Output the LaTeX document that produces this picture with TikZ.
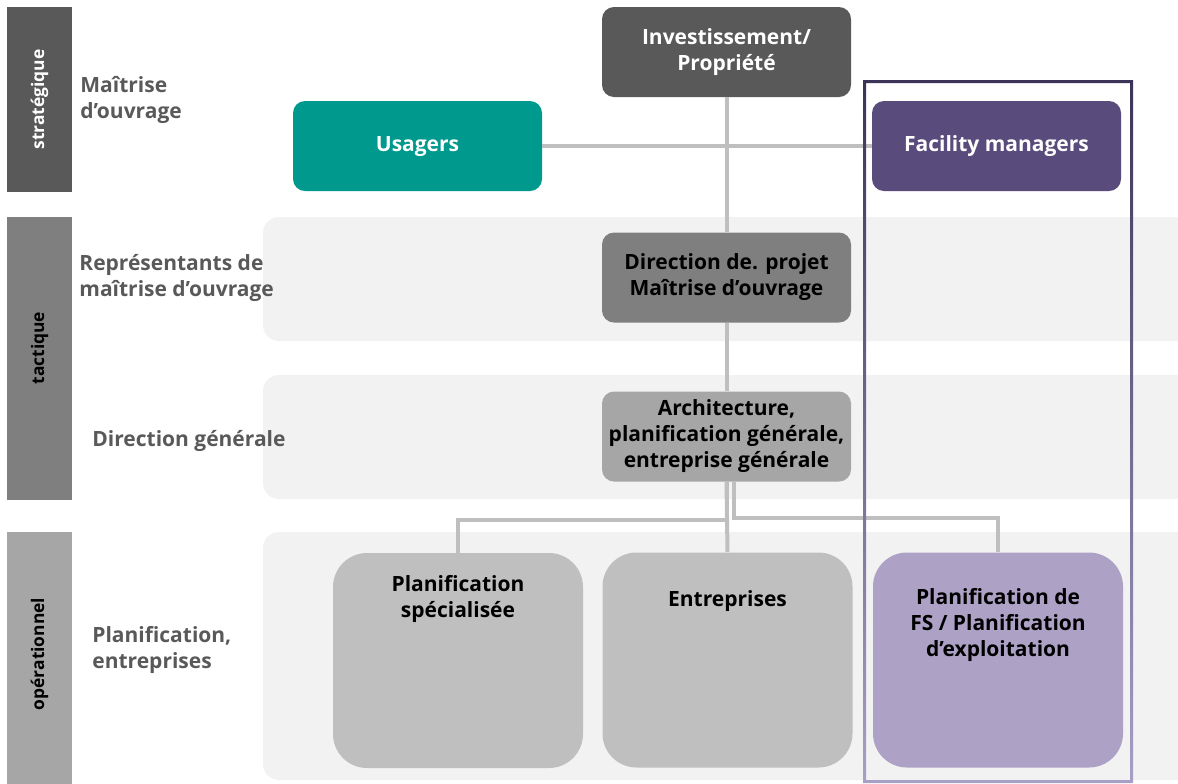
\documentclass[tikz,border=0pt]{standalone}
\usepackage{fontspec}
\setmainfont{Open Sans}
\usetikzlibrary{positioning}

\definecolor{gdark}{HTML}{595959}
\definecolor{gmid}{HTML}{7F7F7F}
\definecolor{glight}{HTML}{A6A6A6}
\definecolor{gbox}{HTML}{BFBFBF}
\definecolor{gband}{HTML}{F2F2F2}
\definecolor{teal}{HTML}{00998E}
\definecolor{fmpurple}{HTML}{594B7B}
\definecolor{fspurple}{HTML}{ADA2C6}
\definecolor{frametop}{HTML}{3C3358}
\definecolor{framebot}{HTML}{A89FC6}

\begin{document}
\begin{tikzpicture}[x=0.5pt,y=-0.5pt,
    every node/.style={font=\bfseries\fontsize{10.5}{13}\selectfont},
    box/.style={rounded corners=6pt,minimum width=124.5pt,minimum height=45pt,
      align=center,inner sep=0pt},
    bigbox/.style={rounded corners=17pt,minimum width=125pt,minimum height=107.5pt,
      inner sep=0pt},
    intext/.style={anchor=north,align=center,inner sep=0pt},
    conn/.style={draw=gbox,line width=2pt},
    band/.style={fill=gband,rounded corners=8pt},
    rowlbl/.style={anchor=west,align=left,text=gdark,inner sep=0pt},
    levellbl/.style={rotate=90,font=\bfseries\fontsize{8.7}{10}\selectfont}]
  \useasboundingbox (0,0) rectangle (1178,783);

  % bandes
  \fill[band] (263,217) rectangle (1195,341);
  \fill[band] (263,375) rectangle (1195,499);
  \fill[band] (263,532) rectangle (1195,780);

  % niveaux
  \fill[gdark] (7,7) rectangle (72,192);
  \fill[gmid] (7,217) rectangle (72,500);
  \fill[glight] (7,532) rectangle (72,790);
  \node[levellbl,text=white] (strat) at (39.5,99.5) {stratégique};
  \node[levellbl] (tact) at (39.5,348) {tactique};
  \node[levellbl] (oper) at (39.5,654) {opérationnel};

  \node[rowlbl] (moa) at (80,100) {Maîtrise\\d’ouvrage};
  \node[rowlbl] (rmoa) at (79,278) {Représentants de\\maîtrise d’ouvrage};
  \node[rowlbl] (dirg) at (92,441) {Direction générale};
  \node[rowlbl] (plent) at (92,650) {Planification,\\entreprises};

  % organes
  \node[box,fill=gdark,text=white] (invest) at (726.5,52) {Investissement/\\Propriété};
  \node[box,fill=teal,text=white] (usagers) at (417.5,146) {\strut Usagers};
  \node[box,fill=fmpurple,text=white] (fm) at (996.5,146) {\strut Facility managers};
  \node[box,fill=gmid] (dp) at (726.5,277.5) {Direction de. projet\\Maîtrise d’ouvrage};
  \node[box,fill=glight] (arch) at (726.5,436.5)
    {Architecture,\\planification générale,\\entreprise générale};

  \node[bigbox,fill=gbox] (spec) at (458,660.5) {};
  \node[intext,below=11pt of spec.north] (spectxt) {Planification\\spécialisée};
  \node[bigbox,fill=gbox] (entr) at (727.5,660) {};
  \node[intext,below=19pt of entr.north] (entrtxt) {Entreprises};
  \node[bigbox,fill=fspurple] (pfs) at (998,660) {};
  \node[intext,below=18pt of pfs.north] (pfstxt)
    {Planification de\\FS / Planification\\d’exploitation};

  % liaisons
  \draw[conn] (invest) -- (dp);
  \draw[conn] (dp) -- (arch);
  \draw[conn] (usagers) -- (fm);
  \draw[conn] (arch.south) -- (entr.north);
  \draw[conn] (arch.south) -- ++(0,38) -| (spec.north);
  \draw[conn] ([xshift=3.5pt]arch.south) -- ++(0,36) -| (pfs.north);

  % cadre FM
  \shade[top color=frametop,bottom color=framebot,even odd rule]
    (863,80) rectangle (1133,783) (866,83) rectangle (1130,780);
\end{tikzpicture}
\end{document}
